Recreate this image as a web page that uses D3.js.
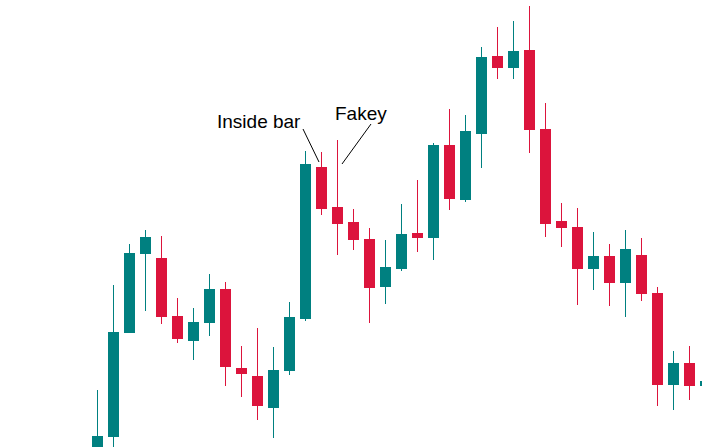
<!DOCTYPE html>
<html>
<head>
<meta charset="utf-8">
<script src="https://cdn.jsdelivr.net/npm/d3@7"></script>
<style>
  html, body { margin: 0; padding: 0; background: #ffffff; }
  svg { display: block; }
</style>
</head>
<body>
<svg id="chart" width="702" height="447"></svg>
<script>
// Candle data (price units, no axes shown)
const openVals  = [-1, 10, 114, 193, 189, 131, 106, 124, 158, 79, 71, 39, 76, 128, 280, 240, 225, 208, 160, 178, 214, 209, 302, 247, 313, 391, 379, 397, 318, 226, 220, 178, 191, 164, 192, 154, 62, 84, 61];
const highVals  = [57, 162, 203, 217, 211, 149, 139, 173, 165, 101, 119, 100, 145, 296, 295, 307, 238, 219, 207, 243, 267, 304, 338, 332, 400, 420, 426, 441, 344, 244, 239, 215, 203, 217, 209, 160, 96, 101, 66];
const lowVals   = [-2, 0, 114, 136, 123, 104, 87, 111, 61, 50, 27, 9, 72, 126, 232, 192, 197, 124, 143, 176, 195, 187, 237, 245, 279, 368, 368, 294, 210, 200, 142, 157, 141, 130, 146, 41, 37, 47, 61];
const closeVals = [11, 115, 194, 210, 130, 108, 125, 158, 80, 73, 41, 77, 130, 283, 238, 223, 207, 159, 180, 213, 209, 302, 248, 316, 390, 379, 396, 317, 223, 219, 178, 191, 164, 198, 153, 62, 84, 61, 66];
const annotationLabels = ["Inside bar", "Fakey"];

const W = 702, H = 447;
const UP = "#008080", DOWN = "#dc143c";

const candles = openVals.map((o, i) => ({
  i, open: o, high: highVals[i], low: lowVals[i], close: closeVals[i]
}));

const x = d3.scaleLinear().domain([0, candles.length - 1]).range([97.5, 97.5 + 16 * (candles.length - 1)]);
const y = d3.scaleLinear().domain([0, 447]).range([447, 0]);
const bodyW = 11;

const svg = d3.select("#chart");

const g = svg.append("g");

// wicks
g.selectAll("line.wick").data(candles).enter().append("line")
  .attr("class", "wick")
  .attr("x1", d => x(d.i)).attr("x2", d => x(d.i))
  .attr("y1", d => y(d.high)).attr("y2", d => y(d.low))
  .attr("stroke", d => d.close >= d.open ? UP : DOWN)
  .attr("stroke-width", 1)
  .attr("shape-rendering", "crispEdges");

// bodies
g.selectAll("rect.body").data(candles).enter().append("rect")
  .attr("class", "body")
  .attr("x", d => x(d.i) - bodyW / 2)
  .attr("y", d => y(Math.max(d.open, d.close)))
  .attr("width", bodyW)
  .attr("height", d => Math.max(1, Math.abs(y(d.open) - y(d.close))))
  .attr("fill", d => d.close >= d.open ? UP : DOWN)
  .attr("shape-rendering", "crispEdges");

// annotations
const ann = svg.append("g")
  .attr("font-family", "'Liberation Sans', Arial, sans-serif")
  .attr("font-size", 19)
  .attr("fill", "#000");

ann.append("text").attr("x", 217).attr("y", 128).text(annotationLabels[0]);
ann.append("text").attr("x", 335).attr("y", 120).text(annotationLabels[1]);

ann.append("line")
  .attr("x1", 303).attr("y1", 129).attr("x2", 319).attr("y2", 162)
  .attr("stroke", "#000").attr("stroke-width", 1);
ann.append("line")
  .attr("x1", 371).attr("y1", 124).attr("x2", 342).attr("y2", 164)
  .attr("stroke", "#000").attr("stroke-width", 1);
</script>
</body>
</html>
